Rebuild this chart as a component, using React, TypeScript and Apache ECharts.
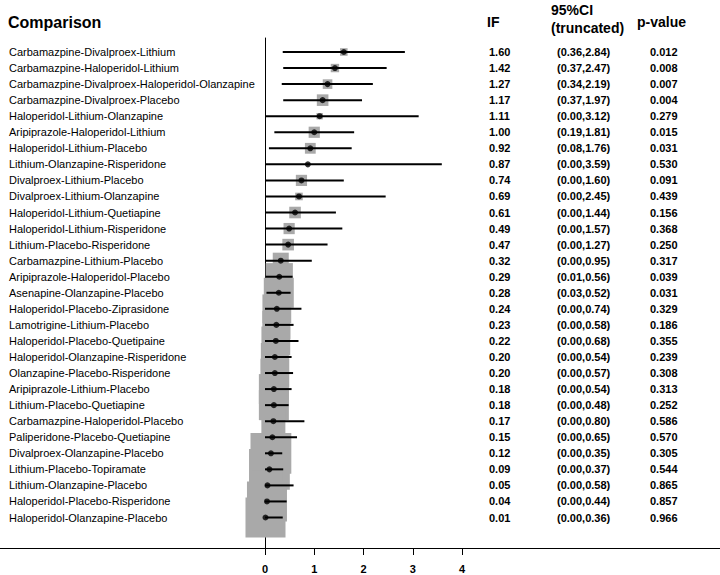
import React, { useEffect, useRef } from "react";
import * as echarts from "echarts";

const comparisons = [
  "Carbamazpine-Divalproex-Lithium",
  "Carbamazpine-Haloperidol-Lithium",
  "Carbamazpine-Divalproex-Haloperidol-Olanzapine",
  "Carbamazpine-Divalproex-Placebo",
  "Haloperidol-Lithium-Olanzapine",
  "Aripiprazole-Haloperidol-Lithium",
  "Haloperidol-Lithium-Placebo",
  "Lithium-Olanzapine-Risperidone",
  "Divalproex-Lithium-Placebo",
  "Divalproex-Lithium-Olanzapine",
  "Haloperidol-Lithium-Quetiapine",
  "Haloperidol-Lithium-Risperidone",
  "Lithium-Placebo-Risperidone",
  "Carbamazpine-Lithium-Placebo",
  "Aripiprazole-Haloperidol-Placebo",
  "Asenapine-Olanzapine-Placebo",
  "Haloperidol-Placebo-Ziprasidone",
  "Lamotrigine-Lithium-Placebo",
  "Haloperidol-Placebo-Quetipaine",
  "Haloperidol-Olanzapine-Risperidone",
  "Olanzapine-Placebo-Risperidone",
  "Aripiprazole-Lithium-Placebo",
  "Lithium-Placebo-Quetiapine",
  "Carbamazpine-Haloperidol-Placebo",
  "Paliperidone-Placebo-Quetiapine",
  "Divalproex-Olanzapine-Placebo",
  "Lithium-Placebo-Topiramate",
  "Lithium-Olanzapine-Placebo",
  "Haloperidol-Placebo-Risperidone",
  "Haloperidol-Olanzapine-Placebo",
];

const inconsistencyFactor = [
  1.6, 1.42, 1.27, 1.17, 1.11, 1.0, 0.92, 0.87, 0.74, 0.69, 0.61, 0.49, 0.47, 0.32, 0.29,
  0.28, 0.24, 0.23, 0.22, 0.2, 0.2, 0.18, 0.18, 0.17, 0.15, 0.12, 0.09, 0.05, 0.04, 0.01,
];

const ciLower = [
  0.36, 0.37, 0.34, 0.37, 0.0, 0.19, 0.08, 0.0, 0.0, 0.0, 0.0, 0.0, 0.0, 0.0, 0.01,
  0.03, 0.0, 0.0, 0.0, 0.0, 0.0, 0.0, 0.0, 0.0, 0.0, 0.0, 0.0, 0.0, 0.0, 0.0,
];

const ciUpper = [
  2.84, 2.47, 2.19, 1.97, 3.12, 1.81, 1.76, 3.59, 1.6, 2.45, 1.44, 1.57, 1.27, 0.95, 0.56,
  0.52, 0.74, 0.58, 0.68, 0.54, 0.57, 0.54, 0.48, 0.8, 0.65, 0.35, 0.37, 0.58, 0.44, 0.36,
];

const pValues = [
  0.012, 0.008, 0.007, 0.004, 0.279, 0.015, 0.031, 0.53, 0.091, 0.439, 0.156, 0.368, 0.25,
  0.317, 0.039, 0.031, 0.329, 0.186, 0.355, 0.239, 0.308, 0.313, 0.252, 0.586, 0.57, 0.305,
  0.544, 0.865, 0.857, 0.966,
];

// relative weight of each comparison (drives the grey square size)
const boxWeights = [
  1.9, 2.1, 2.4, 2.9, 1.6, 2.8, 2.7, 0.6, 2.8, 1.9, 2.9, 2.8, 2.9, 4.0, 6.8,
  7.5, 7.2, 7.0, 7.2, 7.0, 7.2, 7.5, 7.5, 6.0, 5.0, 10.2, 10.2, 7.5, 10.0, 10.0,
];

const xTickValues = [0, 1, 2, 3, 4];

const FONT = '"Liberation Sans", Arial, Helvetica, sans-serif';
const BOX_PX = 4;

export default function App() {
  const ref = useRef<HTMLDivElement>(null);

  useEffect(() => {
    const chart = echarts.init(ref.current!, null, { renderer: "svg" });
    const rows = comparisons.map((name, i) => [
      inconsistencyFactor[i],
      i,
      ciLower[i],
      ciUpper[i],
      boxWeights[i],
      pValues[i],
    ]);
    const nRows = comparisons.length;

    chart.setOption({
      animation: false,
      backgroundColor: "#ffffff",
      grid: { left: 265, right: 258, top: 38, bottom: 27 },
      xAxis: {
        type: "value",
        position: "bottom",
        min: xTickValues[0],
        max: xTickValues[xTickValues.length - 1],
        interval: 1,
        axisLine: { show: false, onZero: false },
        axisTick: { show: true, length: 7, lineStyle: { color: "#000", width: 1 } },
        axisLabel: {
          color: "#000",
          fontWeight: "bold",
          fontSize: 11,
          fontFamily: FONT,
          margin: 15,
        },
        splitLine: { show: false },
      },
      yAxis: {
        type: "value",
        inverse: true,
        min: -0.872,
        max: nRows + 0.9,
        axisLine: { show: true, onZero: false, lineStyle: { color: "#000", width: 1 } },
        axisTick: { show: false },
        axisLabel: { show: false },
        splitLine: { show: false },
      },
      graphic: [
        {
          type: "line",
          z: 0,
          shape: { x1: 0, y1: 548.5, x2: 720, y2: 548.5 },
          style: { stroke: "#000", lineWidth: 1 },
        },
        {
          type: "text",
          x: 8,
          y: 22,
          style: { text: "Comparison", font: `bold 16px ${FONT}`, fill: "#000", verticalAlign: "middle" },
        },
        {
          type: "text",
          x: 487,
          y: 22,
          style: { text: "IF", font: `bold 14px ${FONT}`, fill: "#000", verticalAlign: "middle" },
        },
        {
          type: "text",
          x: 551,
          y: 10,
          style: { text: "95%CI", font: `bold 14px ${FONT}`, fill: "#000", verticalAlign: "middle" },
        },
        {
          type: "text",
          x: 551,
          y: 28,
          style: { text: "(truncated)", font: `bold 14px ${FONT}`, fill: "#000", verticalAlign: "middle" },
        },
        {
          type: "text",
          x: 637,
          y: 22,
          style: { text: "p-value", font: `bold 14px ${FONT}`, fill: "#000", verticalAlign: "middle" },
        },
      ],
      series: [
        {
          type: "custom",
          name: "weights",
          z: 2,
          clip: false,
          data: rows,
          encode: { x: 0, y: 1 },
          renderItem: (_params: any, api: any) => {
            const c = api.coord([api.value(0), api.value(1)]);
            const s = api.value(4) * BOX_PX;
            return {
              type: "rect",
              shape: { x: c[0] - s / 2, y: c[1] - s / 2, width: s, height: s },
              style: { fill: "#a9a9a9" },
            };
          },
        },
        {
          type: "custom",
          name: "ci",
          z: 3,
          clip: false,
          data: rows,
          encode: { x: [2, 3], y: 1 },
          renderItem: (_params: any, api: any) => {
            const a = api.coord([api.value(2), api.value(1)]);
            const b = api.coord([api.value(3), api.value(1)]);
            return {
              type: "line",
              shape: { x1: a[0], y1: a[1], x2: b[0], y2: b[1] },
              style: { stroke: "#000", lineWidth: 2 },
            };
          },
        },
        {
          type: "scatter",
          name: "IF",
          z: 4,
          symbol: "circle",
          symbolSize: 6,
          itemStyle: { color: "#000" },
          data: rows.map((r) => [r[0], r[1]]),
        },
        {
          type: "custom",
          name: "table",
          z: 5,
          clip: false,
          data: rows,
          encode: { x: 0, y: 1 },
          renderItem: (params: any, api: any) => {
            const i = params.dataIndex;
            const cy = api.coord([0, api.value(1)])[1];
            const numFont = `bold 11px ${FONT}`;
            return {
              type: "group",
              children: [
                {
                  type: "text",
                  x: 9,
                  y: cy,
                  style: {
                    text: comparisons[i],
                    font: `11px ${FONT}`,
                    fill: "#000",
                    align: "left",
                    verticalAlign: "middle",
                  },
                },
                {
                  type: "text",
                  x: 489,
                  y: cy,
                  style: {
                    text: inconsistencyFactor[i].toFixed(2),
                    font: numFont,
                    fill: "#000",
                    align: "left",
                    verticalAlign: "middle",
                  },
                },
                {
                  type: "text",
                  x: 557,
                  y: cy,
                  style: {
                    text: `(${ciLower[i].toFixed(2)},${ciUpper[i].toFixed(2)})`,
                    font: numFont,
                    fill: "#000",
                    align: "left",
                    verticalAlign: "middle",
                  },
                },
                {
                  type: "text",
                  x: 650,
                  y: cy,
                  style: {
                    text: pValues[i].toFixed(3),
                    font: numFont,
                    fill: "#000",
                    align: "left",
                    verticalAlign: "middle",
                  },
                },
              ],
            };
          },
        },
      ],
    });

    return () => chart.dispose();
  }, []);

  return (
    <div
      ref={ref}
      style={{ position: "fixed", left: 0, top: 0, width: 720, height: 575, background: "#fff" }}
    />
  );
}
